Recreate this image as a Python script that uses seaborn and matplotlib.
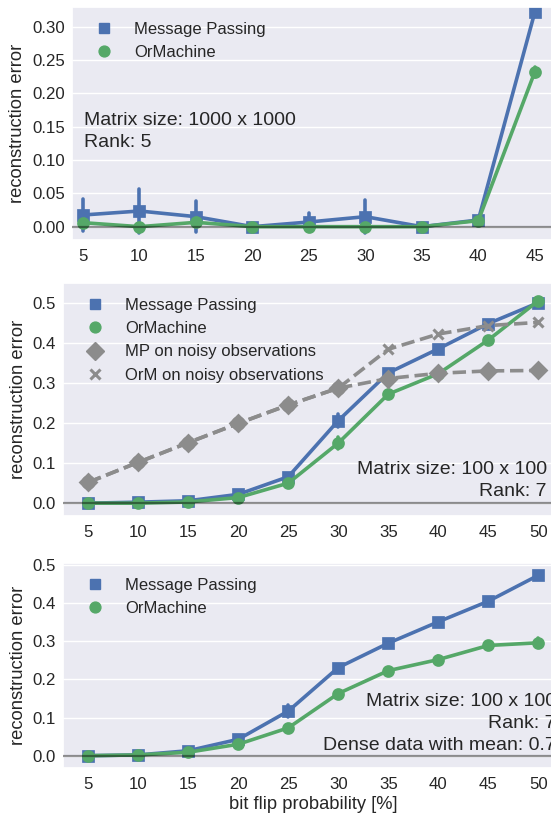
import numpy as np
import pandas as pd
import matplotlib
matplotlib.use("Agg")
import matplotlib.pyplot as plt
from matplotlib.lines import Line2D
from matplotlib.ticker import FormatStrFormatter
import seaborn as sns

# ---- data -------------------------------------------------------------
flip_top = [5, 10, 15, 20, 25, 30, 35, 40, 45]
mp_top = [0.0175, 0.0235, 0.015, 0.0, 0.007, 0.015, 0.0, 0.010, 0.3215]
mp_top_err = [0.024, 0.0325, 0.023, 0.0, 0.014, 0.025, 0.0, 0.003, 0.0]
orm_top = [0.006, 0.0, 0.0065, 0.0, 0.0, 0.0, 0.0, 0.009, 0.232]
orm_top_err = [0.004, 0.0, 0.003, 0.0, 0.0, 0.0, 0.0, 0.002, 0.008]

flip = [5, 10, 15, 20, 25, 30, 35, 40, 45, 50]
mp_mid = [0.0, 0.0025, 0.006, 0.022, 0.066, 0.206, 0.325, 0.385, 0.448, 0.500]
mp_mid_err = [0.0, 0.0, 0.0, 0.004, 0.006, 0.016, 0.006, 0.005, 0.004, 0.003]
orm_mid = [0.0, 0.0, 0.003, 0.014, 0.050, 0.150, 0.272, 0.323, 0.407, 0.505]
orm_mid_err = [0.0, 0.0, 0.0, 0.003, 0.004, 0.015, 0.006, 0.004, 0.004, 0.003]
mp_noisy = [0.052, 0.102, 0.151, 0.199, 0.245, 0.287, 0.311, 0.324, 0.330, 0.331]
orm_noisy = [0.052, 0.102, 0.151, 0.199, 0.245, 0.287, 0.384, 0.422, 0.443, 0.451]
no_err = [0.0] * 10

mp_bot = [0.0, 0.002, 0.013, 0.043, 0.117, 0.231, 0.295, 0.351, 0.405, 0.473]
mp_bot_err = [0.0, 0.0, 0.002, 0.004, 0.016, 0.006, 0.004, 0.004, 0.004, 0.003]
orm_bot = [0.0, 0.002, 0.009, 0.030, 0.073, 0.163, 0.223, 0.252, 0.289, 0.296]
orm_bot_err = [0.0, 0.0, 0.002, 0.003, 0.004, 0.005, 0.005, 0.010, 0.008, 0.012]

MP = "Message Passing"
ORM = "OrMachine"
MPN = "MP on noisy observations"
ORMN = "OrM on noisy observations"

# ---- style ------------------------------------------------------------
sns.set_theme(style="darkgrid", context="notebook", font_scale=1.1)
plt.rcParams["font.family"] = ["Liberation Sans", "DejaVu Sans"]

BLUE = "#4C72B0"
GREEN = "#55A868"
GRAY = "#8C8C8C"
STYLES = {
    MP: (BLUE, "s", "-"),
    ORM: (GREEN, "o", "-"),
    MPN: (GRAY, "D", "--"),
    ORMN: (GRAY, "x", "--"),
}
MARKER_SIZE = {"s": 7.2, "o": 7.2, "D": 8.2, "x": 7.2}


def long_frame(flips, series):
    """Two rows per point (mean -/+ half-width) so the percentile interval
    spans the error bar and the mean sits at the point."""
    rows = []
    for name, (vals, errs) in series.items():
        for f, v, e in zip(flips, vals, errs):
            rows.append((f, v - e, name))
            rows.append((f, v + e, name))
    return pd.DataFrame(rows, columns=["flip", "error", "method"])


def draw(ax, flips, series):
    names = list(series)
    df = long_frame(flips, series)
    sns.pointplot(
        data=df, x="flip", y="error", hue="method", hue_order=names,
        palette=[STYLES[n][0] for n in names],
        markers=[STYLES[n][1] for n in names],
        linestyles=[STYLES[n][2] for n in names],
        estimator="mean", errorbar=("pi", 100),
        markersize=7.2, linewidth=2.6, err_kws={"linewidth": 2.6},
        legend=False, ax=ax,
    )
    for line in ax.lines:
        m = line.get_marker()
        if m in MARKER_SIZE:
            line.set_markersize(MARKER_SIZE[m])
        if m == "x":
            line.set_markeredgewidth(2.2)
    ax.axhline(0, color="black", alpha=0.42, lw=1.6, zorder=6)
    handles = []
    for n in names:
        c, m, _ = STYLES[n]
        handles.append(Line2D([], [], color=c, marker=m, linestyle="none",
                              markersize=MARKER_SIZE[m] + 0.6,
                              markeredgewidth=2.2 if m == "x" else 1.0))
    ax.legend(handles, names, loc="upper left", frameon=False,
              labelspacing=0.5, fontsize=12)
    ax.set_ylabel("reconstruction error")
    ax.set_xlabel("")
    ax.tick_params(axis="x", length=0, pad=6.5)
    ax.tick_params(axis="y", length=0, pad=5.5)


fig = plt.figure(figsize=(5.51, 8.14), dpi=100)
W, H = 551.0, 814.0


def px_axes(left, top, right, bottom):
    return fig.add_axes([left / W, 1 - bottom / H, (right - left) / W,
                         (bottom - top) / H])


# top panel
ax1 = px_axes(72.3, 6.7, 563.0, 240.0)
draw(ax1, flip_top, {MP: (mp_top, mp_top_err), ORM: (orm_top, orm_top_err)})
ax1.set_xlim(-0.19, 8.5)
ax1.set_ylim(-0.02, 0.33)
ax1.set_yticks(np.arange(0, 0.31, 0.05))
ax1.yaxis.set_major_formatter(FormatStrFormatter("%.2f"))
ax1.text(0.0245, 0.465, "Matrix size: 1000 x 1000\nRank: 5",
         transform=ax1.transAxes, ha="left", va="center", fontsize=14,
         linespacing=1.4, color="#262626")

# middle panel
ax2 = px_axes(63.3, 282.7, 563.3, 516.0)
draw(ax2, flip, {MP: (mp_mid, mp_mid_err), ORM: (orm_mid, orm_mid_err),
                 MPN: (mp_noisy, no_err), ORMN: (orm_noisy, no_err)})
ax2.set_ylim(-0.032, 0.55)
ax2.set_yticks(np.arange(0, 0.51, 0.1))
ax2.yaxis.set_major_formatter(FormatStrFormatter("%.1f"))
ax2.text(0.967, 0.152, "Matrix size: 100 x 100\nRank: 7",
         transform=ax2.transAxes, ha="right", va="center", fontsize=14,
         linespacing=1.4, multialignment="right", color="#262626")

# bottom panel
ax3 = px_axes(63.3, 562.7, 563.3, 767.7)
draw(ax3, flip, {MP: (mp_bot, mp_bot_err), ORM: (orm_bot, orm_bot_err)})
ax3.set_ylim(-0.0315, 0.506)
ax3.set_yticks(np.arange(0, 0.51, 0.1))
ax3.yaxis.set_major_formatter(FormatStrFormatter("%.1f"))
ax3.set_xlabel("bit flip probability [%]", labelpad=3)
ax3.text(0.985, 0.215,
         "Matrix size: 100 x 100\nRank: 7\nDense data with mean: 0.7",
         transform=ax3.transAxes, ha="right", va="center", fontsize=14,
         linespacing=1.4, multialignment="right", color="#262626")

fig.savefig("out.png", dpi=100)
